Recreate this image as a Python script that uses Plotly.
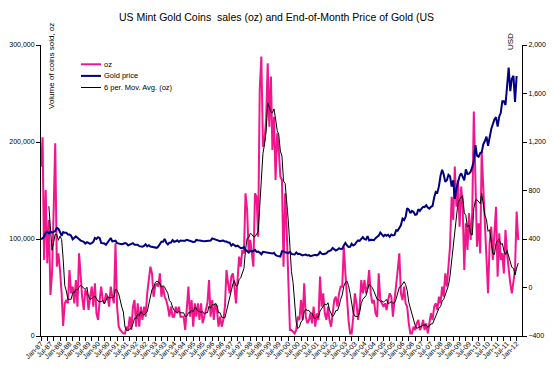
import pandas as pd
import plotly.graph_objects as go

# ---------------- data ----------------
# Monthly US Mint gold coin sales, thousand oz (Jan-1987 onward)
oz_thousand = [
    174.6, 204.8, 78.4, 150.5, 74.9, 119.6, 42.3, 64.6, 129.9, 198.6, 71.5, 85.2,
    68.0, 44.0, 10.3, 33.7, 37.1, 33.7, 68.0, 44.0, 50.9, 33.7, 57.7, 30.2,
    85.2, 57.7, 40.5, 26.8, 47.4, 44.0, 26.8, 40.5, 50.9, 30.2, 54.3, 23.4,
    16.5, 37.1, 50.9, 37.1, 33.7, 44.0, 40.5, 30.2, 50.9, 40.5, 33.7, 95.5,
    30.2, 9.6, 6.2, 4.5, 2.7, 2.7, 9.6, 6.2, 19.9, 6.2, 30.2, 37.1,
    9.6, 33.7, 9.6, 30.2, 16.5, 30.2, 19.9, 44.0, 57.7, 71.5, 64.6, 40.5,
    50.9, 54.3, 50.9, 64.6, 40.5, 50.9, 40.5, 37.1, 30.2, 19.9, 30.2, 19.9,
    19.9, 30.2, 23.4, 30.2, 19.9, 19.9, 19.9, 6.2, 26.8, 50.9, 19.9, 37.1,
    9.6, 33.7, 19.9, 33.7, 16.5, 33.7, 13.1, 19.9, 26.8, 33.7, 57.7, 19.9,
    37.1, 16.5, 33.7, 26.8, 9.6, 19.9, 9.6, 16.5, 30.2, 68.0, 54.3, 44.0,
    61.2, 64.6, 50.9, 33.7, 57.7, 81.8, 71.5, 88.7, 85.2, 147.1, 129.9, 85.2,
    99.0, 81.8, 71.5, 147.1, 143.6, 102.4, 253.6, 288.0, 195.2, 202.1, 222.7, 281.1,
    215.8, 267.4, 191.8, 226.1, 160.8, 208.9, 191.8, 164.3, 160.8, 71.5, 147.1, 109.3,
    57.7, 6.2, 6.2, 4.5, 2.7, 6.2, 19.9, 16.5, 37.1, 16.5, 54.3, 19.9,
    13.1, 16.5, 23.4, 13.1, 30.2, 9.6, 23.4, 16.5, 61.2, 30.2, 44.0, 23.4,
    16.5, 30.2, 16.5, 9.6, 23.4, 37.1, 40.5, 30.2, 44.0, 50.9, 50.9, 92.1,
    64.6, 37.1, 16.5, 2.7, 2.7, 19.9, 44.0, 33.7, 16.5, 30.2, 57.7, 44.0,
    57.7, 44.0, 50.9, 68.0, 44.0, 33.7, 37.1, 23.4, 19.9, 64.6, 37.1, 33.7,
    30.2, 33.7, 26.8, 37.1, 44.0, 40.5, 19.9, 37.1, 50.9, 68.0, 85.2, 44.0,
    37.1, 50.9, 33.7, 30.2, 13.1, 2.7, 2.7, 9.6, 6.2, 13.1, 16.5, 6.2,
    9.6, 16.5, 6.2, 13.1, 2.7, 13.1, 23.4, 16.5, 30.2, 33.7, 26.8, 40.5,
    33.7, 50.9, 40.5, 64.6, 50.9, 71.5, 92.1, 143.6, 119.6, 174.6, 133.3, 160.8,
    112.7, 154.0, 133.3, 68.0, 116.2, 88.7, 126.5, 99.0, 126.5, 231.3, 167.7, 92.1,
    116.2, 85.2, 190.0, 150.5, 112.7, 64.6, 44.0, 95.5, 112.7, 78.4, 109.3, 133.3,
    61.2, 105.8, 78.4, 85.2, 64.6, 109.3, 85.2, 68.0, 54.3, 44.0, 57.7, 68.0,
    128.2, 99.0,
]

# End-of-month gold price, USD (Jan-1987 .. Jan-2012)
gold_usd = [
    400, 405, 419, 452, 460, 447, 462, 453, 459, 466, 492, 484,
    458, 426, 457, 451, 452, 437, 437, 427, 397, 412, 421, 410,
    394, 387, 383, 377, 362, 373, 368, 360, 366, 376, 409, 401,
    415, 407, 368, 368, 363, 352, 372, 387, 408, 380, 384, 386,
    366, 363, 355, 357, 361, 367, 362, 347, 354, 358, 366, 353,
    354, 353, 341, 336, 337, 343, 357, 340, 349, 338, 334, 333,
    330, 327, 337, 355, 377, 378, 401, 371, 355, 370, 371, 391,
    377, 381, 389, 376, 387, 386, 384, 386, 394, 389, 383, 383,
    375, 376, 392, 389, 385, 387, 383, 382, 384, 383, 387, 387,
    405, 400, 396, 392, 391, 382, 385, 387, 379, 379, 371, 369,
    345, 358, 349, 340, 345, 334, 326, 325, 333, 311, 296, 290,
    303, 297, 301, 310, 293, 296, 288, 273, 294, 292, 294, 288,
    285, 288, 280, 286, 268, 261, 255, 255, 299, 299, 291, 290,
    284, 293, 277, 274, 272, 289, 276, 278, 273, 264, 269, 272,
    265, 267, 258, 264, 268, 270, 265, 273, 293, 279, 275, 277,
    282, 297, 301, 308, 326, 318, 304, 312, 324, 317, 319, 347,
    368, 347, 334, 336, 361, 346, 354, 375, 388, 384, 398, 416,
    399, 395, 423, 388, 393, 395, 391, 407, 415, 428, 453, 435,
    422, 435, 427, 435, 418, 437, 429, 433, 473, 470, 495, 513,
    568, 556, 582, 654, 643, 613, 632, 623, 599, 603, 646, 632,
    650, 665, 662, 679, 659, 650, 665, 673, 743, 789, 783, 834,
    923, 971, 933, 871, 885, 930, 918, 833, 884, 731, 815, 870,
    919, 942, 916, 883, 975, 935, 939, 955, 996, 1040, 1175, 1088,
    1078, 1109, 1115, 1180, 1208, 1244, 1169, 1246, 1307, 1346, 1386, 1405,
    1327, 1411, 1439, 1536, 1536, 1505, 1628, 1813, 1620, 1722, 1746, 1531,
    1744,
]

start_month = "1987-01-01"
x_end = "2012-04-13"
ma_window = 6

title_text = "US Mint Gold Coins  sales (oz) and End-of-Month Price of Gold (US"
left_title = "Volume of coins sold, oz"
right_title = "USD"
legend_names = ["oz", "Gold price", "6 per. Mov. Avg. (oz)"]

# ---------------- derived ----------------
oz = [round(v * 1000) for v in oz_thousand]
oz_months = pd.date_range(start_month, periods=len(oz), freq="MS")
gold_months = pd.date_range(start_month, periods=len(gold_usd), freq="MS")
oz_ma = pd.Series(oz).rolling(ma_window).mean()

PINK = "#F0168C"
NAVY = "#000080"
FONT = "Liberation Sans, Arial, sans-serif"

W, H = 553, 378
L, R, T, B = 41, 31, 45, 42
PW, PH = W - L - R, H - T - B


def px(xp):
    return (xp - L) / PW


def py(yp):
    return (H - B - yp) / PH


fig = go.Figure()
fig.add_trace(go.Scatter(x=oz_months, y=oz, mode="lines", name=legend_names[0],
                         line=dict(color=PINK, width=2), showlegend=False))
fig.add_trace(go.Scatter(x=oz_months, y=oz_ma, mode="lines", name=legend_names[2],
                         line=dict(color="black", width=1), showlegend=False))
fig.add_trace(go.Scatter(x=gold_months, y=gold_usd, mode="lines", name=legend_names[1],
                         line=dict(color=NAVY, width=2), yaxis="y2", showlegend=False))
# helper trace to carry the minor tick axis
fig.add_trace(go.Scatter(x=[oz_months[0]], y=[None], xaxis="x2", mode="lines",
                         showlegend=False, hoverinfo="skip"))

tickfont = dict(family=FONT, size=7, color="black")

fig.update_layout(
    width=W, height=H,
    margin=dict(l=L, r=R, t=T, b=B, autoexpand=False),
    paper_bgcolor="white", plot_bgcolor="white",
    font=dict(family=FONT, color="black"),
    title=dict(text=title_text, x=0.5, xref="container", y=1 - 17 / H, yanchor="middle",
               font=dict(family=FONT, size=10.5, color="black")),
    xaxis=dict(type="date", range=[start_month, x_end], tickformat="%b-%y",
               dtick="M6", tick0=start_month, tickangle=-45, ticks="",
               showline=True, linecolor="black", linewidth=1, showgrid=False,
               zeroline=False, automargin=False,
               tickfont=dict(family=FONT, size=7, color="black")),
    xaxis2=dict(type="date", range=[start_month, x_end], overlaying="x", anchor="y",
                side="bottom", dtick="M4", tick0=start_month, ticks="outside",
                ticklen=4, tickcolor="black", showticklabels=False, showline=False,
                showgrid=False, zeroline=False, automargin=False),
    yaxis=dict(range=[0, 300000], dtick=100000, tickformat=",", ticks="outside",
               ticklen=4, tickcolor="black", showline=True, linecolor="black",
               linewidth=1, showgrid=False, zeroline=False, automargin=False,
               tickfont=tickfont),
    yaxis2=dict(range=[-400, 2000], dtick=400, tickformat=",", overlaying="y",
                side="right", anchor="x", ticks="outside", ticklen=4,
                tickcolor="black", showline=True, linecolor="black", linewidth=1,
                showgrid=False, zeroline=False, automargin=False, tickfont=tickfont),
)

annotations = [
    dict(text=left_title, x=px(52), y=py(66), xref="paper", yref="paper",
         textangle=-90, showarrow=False, xanchor="center", yanchor="middle",
         font=dict(family=FONT, size=8, color="black")),
    dict(text=right_title, x=px(510), y=py(42), xref="paper", yref="paper",
         textangle=-90, showarrow=False, xanchor="center", yanchor="middle",
         font=dict(family=FONT, size=8, color="black")),
]
shapes = []
leg_colors = [PINK, NAVY, "black"]
leg_widths = [2, 2, 1]
leg_y = [64.3, 75.9, 87.5]
for name, c, w, yy in zip(legend_names, leg_colors, leg_widths, leg_y):
    shapes.append(dict(type="line", xref="paper", yref="paper",
                       x0=px(81), x1=px(101), y0=py(yy), y1=py(yy),
                       line=dict(color=c, width=w)))
    annotations.append(dict(text=name, x=px(102), y=py(yy), xref="paper", yref="paper",
                            showarrow=False, xanchor="left", yanchor="middle",
                            font=dict(family=FONT, size=7.5, color="black")))
fig.update_layout(annotations=annotations, shapes=shapes)

fig.write_html("out.html", config={"displayModeBar": False},
               post_script="document.body.style.margin='0';document.body.style.overflow='hidden';")
